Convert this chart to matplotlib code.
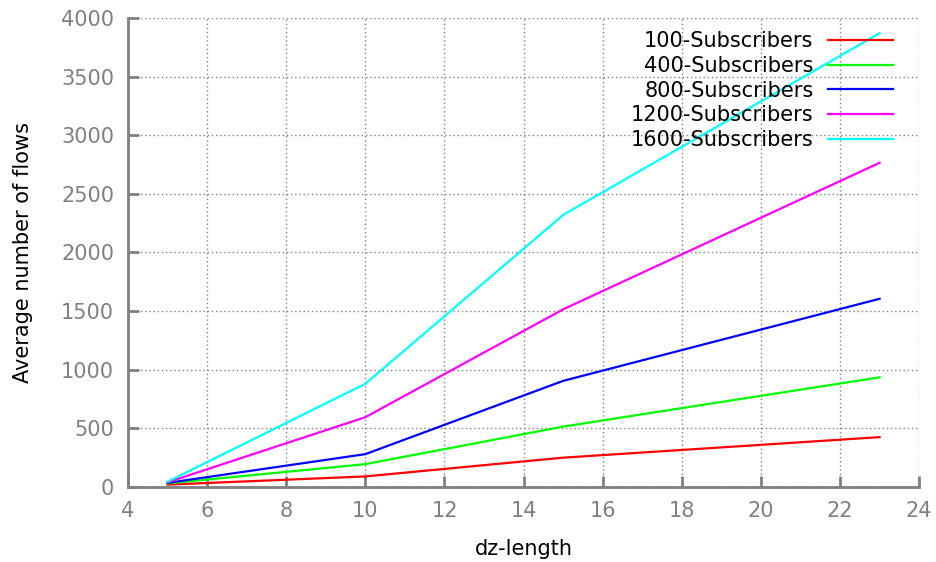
import matplotlib.pyplot as plt

# dz-length values on the x axis
dz_length = [5, 10, 15, 23]

# average number of flows for each subscriber count
subs_100 = [20, 90, 250, 425]
subs_400 = [30, 195, 515, 935]
subs_800 = [35, 280, 905, 1605]
subs_1200 = [40, 595, 1515, 2765]
subs_1600 = [45, 880, 2320, 3870]

series = [
    ("100-Subscribers", subs_100, "#ff0000"),
    ("400-Subscribers", subs_400, "#00ff00"),
    ("800-Subscribers", subs_800, "#0000ff"),
    ("1200-Subscribers", subs_1200, "#ff00ff"),
    ("1600-Subscribers", subs_1600, "#00ffff"),
]

fig = plt.figure(figsize=(9.36, 5.62), dpi=100)
ax = fig.add_axes([0.1368, 0.1335, 0.8452, 0.8345])

for name, vals, col in series:
    ax.plot(dz_length, vals, color=col, lw=1.6, label=name)

ax.set_xlim(4, 24)
ax.set_ylim(0, 4000)
ax.set_xticks(range(4, 25, 2))
ax.set_yticks(range(0, 4001, 500))

grey = "#808080"
for s in ["top", "right"]:
    ax.spines[s].set_visible(False)
for s in ["left", "bottom"]:
    ax.spines[s].set_color(grey)
    ax.spines[s].set_linewidth(2)
ax.tick_params(direction="in", length=8, width=2, color=grey,
               labelcolor=grey, labelsize=15, pad=10)
ax.grid(True, linestyle=(0, (1, 2)), color=grey, lw=1)

ax.set_xlabel("dz-length", fontsize=15, labelpad=13)
ax.set_ylabel("Average number of flows", fontsize=15, labelpad=20)

ax.legend(loc="upper right", frameon=False, markerfirst=False,
          fontsize=15, handlelength=3.1, labelspacing=0.22,
          handletextpad=0.7, bbox_to_anchor=(0.977, 0.989),
          borderaxespad=0)

fig.savefig("out.png", dpi=100)
